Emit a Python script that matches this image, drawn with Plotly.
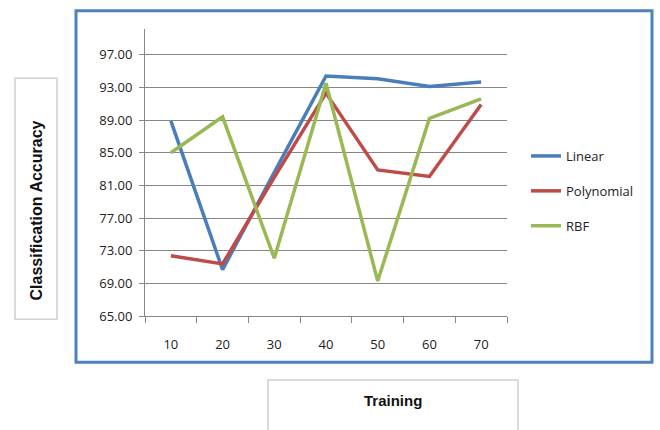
import plotly.graph_objects as go

categories = ["10", "20", "30", "40", "50", "60", "70"]
linear = [88.9, 70.7, 82.6, 94.4, 94.05, 93.1, 93.65]
polynomial = [72.4, 71.4, 82.0, 92.3, 82.9, 82.1, 90.9]
rbf = [85.0, 89.4, 72.1, 93.5, 69.3, 89.2, 91.6]
y_ticks = [65, 69, 73, 77, 81, 85, 89, 93, 97]

series = [("Linear", linear, "#4A7EBB"),
          ("Polynomial", polynomial, "#BE4B48"),
          ("RBF", rbf, "#98B954")]

W, H = 660, 430
fig = go.Figure()
for i, (name, vals, col) in enumerate(series):
    fig.add_trace(go.Scatter(x=categories, y=vals, name=name, mode="lines",
                             line=dict(color=col, width=3.5),
                             legendgroup=f"g{i}"))

font_main = "Open Sans"
tick_font = dict(family=font_main, size=13, color="#222")
fig.update_layout(
    width=W, height=H,
    margin=dict(l=0, r=0, t=0, b=0),
    paper_bgcolor="white", plot_bgcolor="white",
    showlegend=True,
    legend=dict(x=526 / W, y=1 - 144 / H, xanchor="left", yanchor="top",
                font=dict(family=font_main, size=13, color="#222"),
                tracegroupgap=15, traceorder="grouped",
                itemwidth=30, bgcolor="rgba(0,0,0,0)"),
    xaxis=dict(domain=[145 / W, 507 / W], type="category", range=[-0.5, 6.5],
               showgrid=False, showline=True, linecolor="#868686", linewidth=1,
               ticks="outside", tickson="boundaries", ticklen=6, tickcolor="#868686",
               tickfont=tick_font, ticklabelstandoff=16, zeroline=False),
    yaxis=dict(domain=[(H - 323) / H, (H - 30) / H], range=[65, 100.1],
               tickvals=y_ticks, ticktext=[f"{v:.2f}" for v in y_ticks],
               showgrid=True, gridcolor="#868686", gridwidth=1,
               showline=True, linecolor="#868686", linewidth=1,
               ticks="outside", ticklen=5, tickcolor="#868686",
               tickfont=tick_font, ticklabelstandoff=4, zeroline=False),
)

shapes = [
    dict(type="rect", xref="paper", yref="paper",
         x0=76 / W, x1=652 / W, y0=1 - 370 / H, y1=1 - 11 / H,
         line=dict(color="#4F81BD", width=3), fillcolor="rgba(0,0,0,0)", layer="below"),
    dict(type="rect", xref="paper", yref="paper",
         x0=15 / W, x1=57 / W, y0=1 - 326 / H, y1=1 - 80 / H,
         line=dict(color="#D0D0D0", width=1.5), fillcolor="white"),
    dict(type="rect", xref="paper", yref="paper",
         x0=268 / W, x1=518 / W, y0=-0.05, y1=1 - 388 / H,
         line=dict(color="#D0D0D0", width=1.5), fillcolor="white"),
]
fig.update_layout(shapes=shapes)

fig.add_annotation(text="<b>Classification Accuracy</b>", xref="paper", yref="paper",
                   x=36 / W, y=1 - 215 / H, showarrow=False, textangle=-90,
                   font=dict(family="Liberation Sans", size=16, color="#111"),
                   xanchor="center", yanchor="middle")
fig.add_annotation(text="<b>Training</b>", xref="paper", yref="paper",
                   x=393 / W, y=1 - 409 / H, showarrow=False,
                   font=dict(family="Liberation Sans", size=15, color="#111"),
                   xanchor="center", yanchor="middle")

fig.write_html("out.html")
